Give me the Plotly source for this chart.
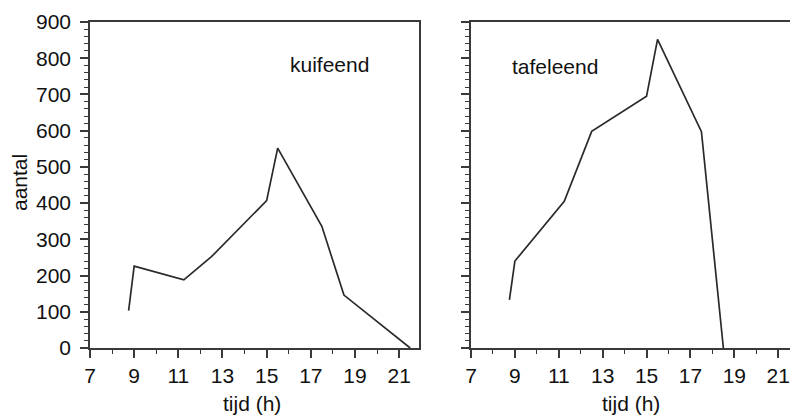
import plotly.graph_objects as go

# kuifeend (left panel)
kuif_t = [8.75, 9.0, 11.25, 12.5, 15.0, 15.5, 17.5, 18.5, 21.5]
kuif_n = [103, 226, 188, 252, 407, 552, 336, 146, 0]

# tafeleend (right panel)
tafel_t = [8.75, 9.0, 11.25, 12.5, 15.0, 15.5, 17.5, 18.5]
tafel_n = [133, 240, 405, 598, 695, 852, 597, 0]

x_ticks = [7, 9, 11, 13, 15, 17, 19, 21]
y_ticks = [0, 100, 200, 300, 400, 500, 600, 700, 800, 900]

FONT = "Liberation Sans, Arial, Helvetica, sans-serif"
LINE_C = "#2a2a2a"
AX_C = "#3a3a3a"

fig = go.Figure()
fig.add_trace(go.Scatter(x=kuif_t, y=kuif_n, mode="lines",
                         line=dict(color=LINE_C, width=1.7),
                         xaxis="x", yaxis="y", showlegend=False))
fig.add_trace(go.Scatter(x=tafel_t, y=tafel_n, mode="lines",
                         line=dict(color=LINE_C, width=1.7),
                         xaxis="x2", yaxis="y2", showlegend=False))

def xax(domain, anchor, mirror=True):
    return dict(domain=domain, anchor=anchor, range=[7, 21.9],
                tickvals=x_ticks, ticktext=[str(v) for v in x_ticks],
                ticks="outside", ticklen=8, tickwidth=1.5, tickcolor=AX_C,
                minor=dict(dtick=1, tick0=7, ticks="outside", ticklen=4,
                           tickwidth=1.3, tickcolor=AX_C),
                showline=True, linecolor=AX_C, linewidth=1.5, mirror=mirror,
                showgrid=False, zeroline=False,
                tickfont=dict(family=FONT, size=21, color="#111"))

def yax(anchor, labels=True, mirror=True):
    return dict(domain=[0, 1], anchor=anchor, range=[0, 900],
                tickvals=y_ticks,
                ticktext=[str(v) for v in y_ticks] if labels else [""] * len(y_ticks),
                ticks="outside", ticklen=8, tickwidth=1.5, tickcolor=AX_C,
                minor=dict(dtick=20, tick0=0, ticks="outside", ticklen=4,
                           tickwidth=1.1, tickcolor=AX_C),
                showline=True, linecolor=AX_C, linewidth=1.5, mirror=mirror,
                showgrid=False, zeroline=False, ticklabelstandoff=5,
                tickfont=dict(family=FONT, size=21, color="#111"))

# page has an 8px body margin; compensate so positions match the 798x416 reference
OFF = 8
W, H = 798 - OFF, 416 - OFF
L, R, T = 90 - OFF, 0, 22 - OFF
B = H - (348 - OFF)
pw = W - L - R

left_dom = [0, (419 - 90) / pw]
right_dom = [(471 - 90) / pw, 1]

fig.update_layout(
    width=W, height=H,
    margin=dict(l=L, r=R, t=T, b=B),
    paper_bgcolor="white", plot_bgcolor="white",
    xaxis=xax(left_dom, "y"),
    yaxis=yax("x"),
    xaxis2=xax(right_dom, "y2"),
    yaxis2=yax("x2", labels=False, mirror=False),
    font=dict(family=FONT, color="#111"),
)

def px2paper_x(px):
    return (px - OFF - L) / pw

def px2paper_y(py):
    return (H - B - (py - OFF)) / (H - T - B)

annots = [
    dict(text="kuifeend", x=px2paper_x(329), y=px2paper_y(64), size=21, ya="middle"),
    dict(text="tafeleend", x=px2paper_x(555), y=px2paper_y(67), size=21, ya="middle"),
    dict(text="tijd (h)", x=px2paper_x(252), y=px2paper_y(417), size=21, ya="bottom"),
    dict(text="tijd (h)", x=px2paper_x(631), y=px2paper_y(417), size=21, ya="bottom"),
]
for a in annots:
    fig.add_annotation(text=a["text"], x=a["x"], y=a["y"], xref="paper", yref="paper",
                       showarrow=False, xanchor="center", yanchor=a["ya"],
                       font=dict(family=FONT, size=a["size"], color="#111"))
fig.add_annotation(text="aantal", x=px2paper_x(19), y=px2paper_y(183),
                   xref="paper", yref="paper", showarrow=False, textangle=-90,
                   xanchor="center", yanchor="middle",
                   font=dict(family=FONT, size=21, color="#111"))

fig.write_html("out.html")
